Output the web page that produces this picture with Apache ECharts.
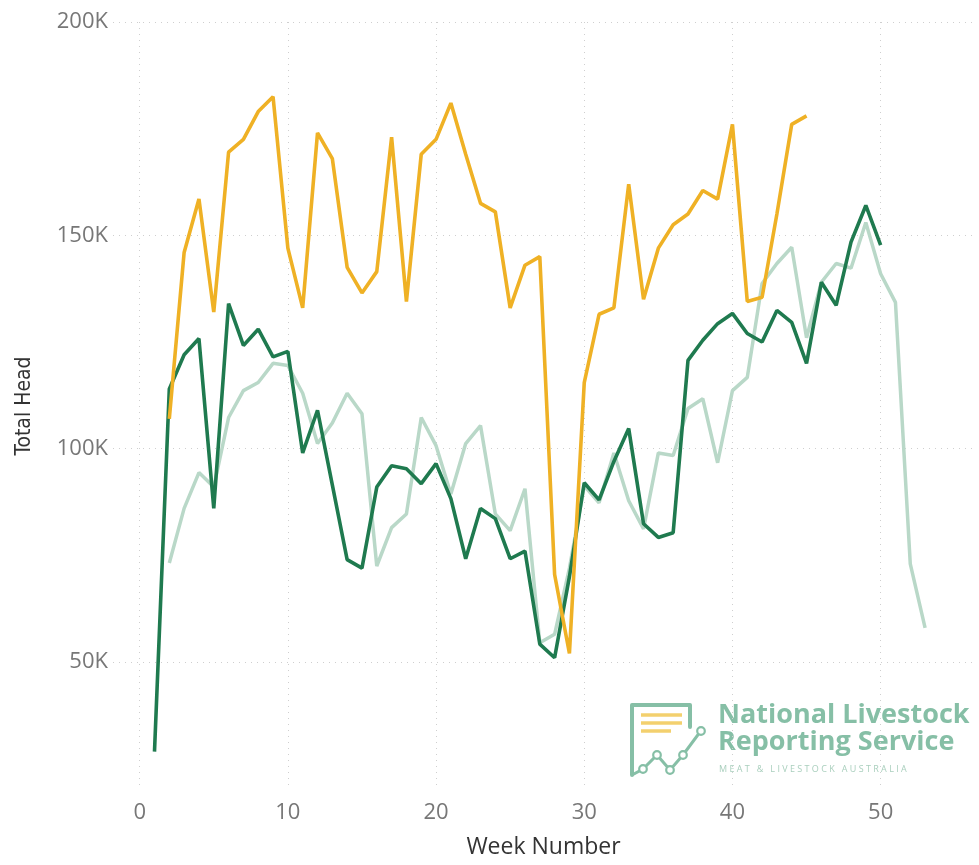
<!DOCTYPE html>
<html>
<head>
<meta charset="utf-8">
<script src="https://cdn.jsdelivr.net/npm/echarts@6/dist/echarts.min.js"></script>
<style>
html,body{margin:0;padding:0;background:#fff;}
#chart{width:979px;height:865px;}
</style>
</head>
<body>
<div id="chart"></div>
<script>
// ---- data (values in thousands of head) ----
const goldStartWeek = 2;
const goldValues = [107, 146, 158.5, 132, 169.5, 172.5, 179, 182.5, 147, 133, 174, 168, 142.5, 136.5, 141.5, 173, 134.5, 169, 172.5, 181, 169, 157.5, 155.5, 133, 143, 145, 70.5, 52, 115.5, 131.5, 133, 162, 135, 147, 152.5, 155, 160.5, 158.5, 176, 134.5, 135.5, 155, 176, 178];

const darkStartWeek = 1;
const darkValues = [29, 114, 122, 125.8, 86, 134, 124.2, 128, 121.5, 122.8, 99, 109, 91.5, 74, 72, 91, 96, 95.3, 91.8, 96.5, 88.3, 74.2, 86, 83.6, 74.2, 76, 54.2, 51, 70, 92, 88, 97, 104.7, 82.4, 79.2, 80.3, 120.7, 125.4, 129.3, 131.7, 127, 125, 132.4, 129.6, 120, 139, 133.6, 148.4, 157, 147.7];

const lightStartWeek = 2;
const lightValues = [73.2, 86, 94.4, 91, 107.3, 113.6, 115.5, 120, 119.5, 113, 101.2, 106, 113, 108.2, 72.5, 81.5, 84.7, 107.3, 100.7, 89.4, 101.2, 105.4, 84.7, 80.8, 90.6, 54.5, 56.5, 72, 91.3, 87.3, 99, 87.8, 81.2, 99, 98.4, 109.4, 111.7, 96.7, 113.6, 116.7, 138.7, 143.4, 147.2, 126, 139, 143.4, 142.3, 153, 141, 134.3, 73, 58];

const xTicks = [0, 10, 20, 30, 40, 50];
const yTicks = [50000, 100000, 150000, 200000];

const xTitle = 'Week Number';
const yTitle = 'Total Head';

function toPairs(start, vals) {
  return vals.map((v, i) => [start + i, v * 1000]);
}

const gridDot = { color: '#cfcfcf', type: [1, 5], width: 1 };
const labelFont = '"Open Sans", "Noto Sans", sans-serif';

const chart = echarts.init(document.getElementById('chart'), null, { renderer: 'canvas' });

const logoGreen = '#86bfa6';
const logoYellow = '#f3d06e';
const logoFont = '"Open Sans", Lato, sans-serif';

chart.setOption({
  animation: false,
  backgroundColor: '#ffffff',
  grid: { left: 113, right: 5, top: 22, bottom: 75, containLabel: false },
  xAxis: {
    type: 'value',
    min: -1.8,
    max: 56.3,
    name: xTitle,
    nameLocation: 'middle',
    nameGap: 46,
    nameTextStyle: { color: '#333333', fontSize: 23, fontFamily: labelFont },
    axisLine: { show: false },
    axisTick: { show: false, customValues: xTicks },
    axisLabel: { customValues: xTicks, color: '#777777', fontSize: 22, fontFamily: labelFont, margin: 12 },
    splitLine: { show: true, lineStyle: gridDot }
  },
  yAxis: {
    type: 'value',
    min: 20000,
    max: 200000,
    name: yTitle,
    nameLocation: 'middle',
    nameGap: 78,
    nameTextStyle: { color: '#333333', fontSize: 21, fontFamily: '"DejaVu Sans Condensed", "Liberation Sans Narrow", sans-serif' },
    axisLine: { show: false },
    axisTick: { show: false, customValues: yTicks },
    axisLabel: {
      customValues: yTicks, color: '#777777', fontSize: 22, fontFamily: labelFont, margin: 5,
      formatter: v => (v / 1000) + 'K'
    },
    splitLine: { show: true, lineStyle: gridDot }
  },
  series: [
    {
      type: 'line', data: toPairs(lightStartWeek, lightValues), showSymbol: false,
      lineStyle: { color: '#b9d8c8', width: 3.5 }, itemStyle: { color: '#b9d8c8' }, z: 2
    },
    {
      type: 'line', data: toPairs(darkStartWeek, darkValues), showSymbol: false,
      lineStyle: { color: '#1f7a4f', width: 3.6 }, itemStyle: { color: '#1f7a4f' }, z: 3
    },
    {
      type: 'line', data: toPairs(goldStartWeek, goldValues), showSymbol: false,
      lineStyle: { color: '#efb125', width: 3.6 }, itemStyle: { color: '#efb125' }, z: 4
    }
  ],
  graphic: [
    {
      type: 'group', left: 626, top: 699, z: 10,
      children: [
        { type: 'rect', shape: { x: 0, y: 0, width: 350, height: 80 }, style: { fill: 'rgba(255,255,255,0.85)' } },
        // bubble outline
        { type: 'polyline', shape: { points: [[64, 28], [64, 6], [6, 6], [6, 76]] },
          style: { stroke: logoGreen, lineWidth: 4, fill: null, lineJoin: 'round', lineCap: 'round' } },
        // yellow lines
        { type: 'line', shape: { x1: 15, y1: 16, x2: 56, y2: 16 }, style: { stroke: logoYellow, lineWidth: 3.5 } },
        { type: 'line', shape: { x1: 15, y1: 24, x2: 56, y2: 24 }, style: { stroke: logoYellow, lineWidth: 3.5 } },
        { type: 'line', shape: { x1: 15, y1: 32, x2: 45, y2: 32 }, style: { stroke: logoYellow, lineWidth: 3.5 } },
        // chart line
        { type: 'polyline', shape: { points: [[6, 76], [17, 70], [31, 56], [44, 71], [57, 56], [74, 33]] },
          style: { stroke: logoGreen, lineWidth: 3, fill: null } },
        { type: 'circle', shape: { cx: 17, cy: 70, r: 3.8 }, style: { stroke: logoGreen, lineWidth: 2.2, fill: '#fff' } },
        { type: 'circle', shape: { cx: 31, cy: 56, r: 3.8 }, style: { stroke: logoGreen, lineWidth: 2.2, fill: '#fff' } },
        { type: 'circle', shape: { cx: 44, cy: 71, r: 3.8 }, style: { stroke: logoGreen, lineWidth: 2.2, fill: '#fff' } },
        { type: 'circle', shape: { cx: 57, cy: 56, r: 3.8 }, style: { stroke: logoGreen, lineWidth: 2.2, fill: '#fff' } },
        { type: 'circle', shape: { cx: 75, cy: 32, r: 3.8 }, style: { stroke: logoGreen, lineWidth: 2.2, fill: '#fff' } },
        { type: 'text', x: 92, y: 3, style: { text: 'National Livestock', fill: logoGreen, font: 'bold 27px ' + logoFont } },
        { type: 'text', x: 92, y: 30, style: { text: 'Reporting Service', fill: logoGreen, font: 'bold 27px ' + logoFont } },
        { type: 'text', x: 93, y: 66, style: { text: 'M E A T   &   L I V E S T O C K   A U S T R A L I A', fill: '#a9cfbd', font: '9px ' + logoFont } }
      ]
    }
  ]
});
</script>
</body>
</html>
